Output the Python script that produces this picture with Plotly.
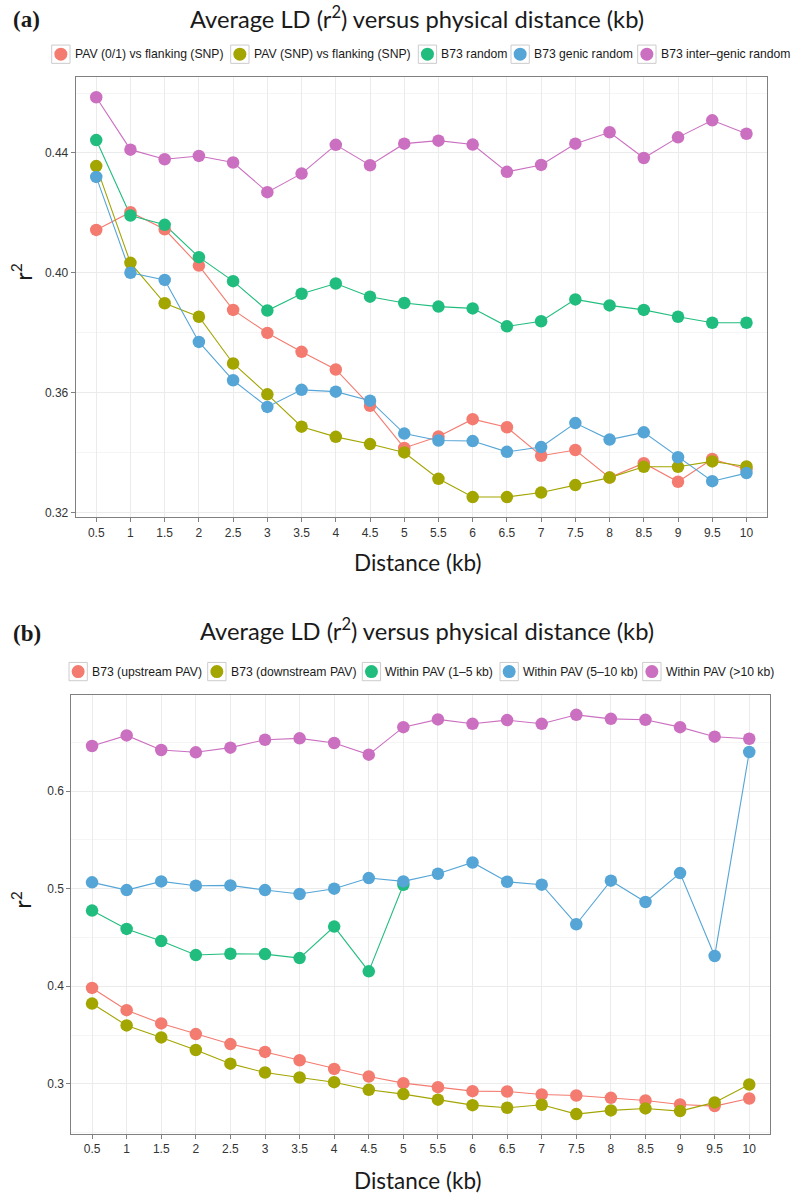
import plotly.graph_objects as go

W, H = 806, 1195

distance = ["0.5", "1", "1.5", "2", "2.5", "3", "3.5", "4", "4.5", "5",
            "5.5", "6", "6.5", "7", "7.5", "8", "8.5", "9", "9.5", "10"]

# ---- Panel (a) ----
a_names = ["PAV (0/1) vs flanking (SNP)", "PAV (SNP) vs flanking (SNP)",
           "B73 random", "B73 genic random", "B73 inter\u2013genic random"]
a_pav01 = [0.4143, 0.4202, 0.4145, 0.4024, 0.3876, 0.3799, 0.3736, 0.3677, 0.3556, 0.3415,
           0.3453, 0.3511, 0.3484, 0.3389, 0.3408, 0.3316, 0.3364, 0.3302, 0.3378, 0.3344]
a_pavsnp = [0.4356, 0.4033, 0.3898, 0.3853, 0.3697, 0.3594, 0.3486, 0.3452, 0.3428, 0.3400,
            0.3312, 0.3251, 0.3251, 0.3266, 0.3291, 0.3316, 0.3352, 0.3352, 0.3370, 0.3353]
a_random = [0.4443, 0.4191, 0.4160, 0.4052, 0.3972, 0.3874, 0.3930, 0.3964, 0.3920, 0.3899,
            0.3887, 0.3881, 0.3821, 0.3838, 0.3911, 0.3891, 0.3876, 0.3853, 0.3833, 0.3833]
a_genic = [0.4320, 0.4000, 0.3976, 0.3769, 0.3641, 0.3552, 0.3609, 0.3603, 0.3573, 0.3463,
           0.3440, 0.3438, 0.3402, 0.3418, 0.3498, 0.3443, 0.3467, 0.3384, 0.3304, 0.3331]
a_intergenic = [0.4586, 0.4411, 0.4379, 0.4390, 0.4368, 0.4269, 0.4331, 0.4427, 0.4359, 0.4431,
                0.4441, 0.4428, 0.4337, 0.4360, 0.4431, 0.4469, 0.4383, 0.4452, 0.4509, 0.4464]
a_series = [a_pav01, a_pavsnp, a_random, a_genic, a_intergenic]
a_yticks = [0.32, 0.36, 0.40, 0.44]

# ---- Panel (b) ----
b_names = ["B73 (upstream PAV)", "B73 (downstream PAV)", "Within PAV (1\u20135 kb)",
           "Within PAV (5\u201310 kb)", "Within PAV (>10 kb)"]
b_upstream = [0.3983, 0.3755, 0.3619, 0.3510, 0.3408, 0.3327, 0.3242, 0.3153, 0.3075, 0.3007,
              0.2966, 0.2925, 0.2922, 0.2891, 0.2881, 0.2857, 0.2830, 0.2789, 0.2772, 0.2850]
b_downstream = [0.3823, 0.3599, 0.3476, 0.3347, 0.3207, 0.3116, 0.3065, 0.3017, 0.2939, 0.2895,
                0.2838, 0.2782, 0.2755, 0.2786, 0.2690, 0.2728, 0.2748, 0.2721, 0.2810, 0.2993]
b_within_1_5 = [0.4776, 0.4588, 0.4463, 0.4320, 0.4333, 0.4330, 0.4289, 0.4612, 0.4153, 0.5040]
b_within_5_10 = [0.5065, 0.4986, 0.5075, 0.5031, 0.5034, 0.4986, 0.4946, 0.5000, 0.5109, 0.5075,
                 0.5153, 0.5269, 0.5071, 0.5041, 0.4636, 0.5082, 0.4864, 0.5160, 0.4310, 0.6401]
b_within_gt10 = [0.6463, 0.6571, 0.6422, 0.6398, 0.6446, 0.6527, 0.6541, 0.6493, 0.6374, 0.6656,
                 0.6735, 0.6690, 0.6728, 0.6690, 0.6782, 0.6741, 0.6731, 0.6656, 0.6558, 0.6537]
b_series = [b_upstream, b_downstream, b_within_1_5, b_within_5_10, b_within_gt10]
b_yticks = [0.3, 0.4, 0.5, 0.6]

colors = ["#F47B70", "#A3A500", "#21BD7E", "#55A5D6", "#CB6FC0"]

title_text = "Average LD (r<sup>2</sup>) versus physical distance (kb)"


def px(x):
    return x / W


def py(y):
    return 1 - y / H


fig = go.Figure()

panels = [
    dict(series=a_series, names=a_names, xa="x", ya="y"),
    dict(series=b_series, names=b_names, xa="x2", ya="y2"),
]

for p in panels:
    for s, c in zip(p["series"], colors):
        fig.add_trace(go.Scatter(x=distance[:len(s)], y=s, mode="lines",
                                 line=dict(color=c, width=1.1),
                                 xaxis=p["xa"], yaxis=p["ya"], showlegend=False,
                                 hoverinfo="skip"))
    for s, c, n in zip(p["series"], colors, p["names"]):
        fig.add_trace(go.Scatter(x=distance[:len(s)], y=s, mode="markers", name=n,
                                 marker=dict(color=c, size=12.5, line=dict(width=0)),
                                 xaxis=p["xa"], yaxis=p["ya"], showlegend=False))

grid = "#EBEBEB"
minor_grid = "#F5F5F5"
border = "#808080"
tickfont = dict(family="Liberation Sans, Arial, sans-serif", size=12, color="#333333")

common_x = dict(type="category", categoryorder="array", categoryarray=distance,
                range=[-0.6, len(distance) - 0.4], showgrid=True, gridcolor=grid,
                gridwidth=1, showline=True, mirror=True, linecolor=border, linewidth=1,
                ticks="outside", ticklen=4, tickcolor=border, tickfont=tickfont,
                zeroline=False)

fig.update_layout(
    width=W, height=H,
    margin=dict(l=0, r=0, t=0, b=0),
    paper_bgcolor="white", plot_bgcolor="white",
    showlegend=False,
    xaxis=dict(common_x, domain=[px(75.7), px(767)], anchor="y"),
    yaxis=dict(domain=[py(518), py(77)], range=[0.3184, 0.4654], anchor="x",
               tickvals=a_yticks, ticktext=[f"{v:.2f}" for v in a_yticks],
               showgrid=True, gridcolor=grid, gridwidth=1,
               minor=dict(dtick=0.02, tick0=0.32, showgrid=True, gridcolor=minor_grid, gridwidth=1),
               showline=True, mirror=True, linecolor=border, linewidth=1,
               ticks="outside", ticklen=4, tickcolor=border, tickfont=tickfont,
               zeroline=False),
    xaxis2=dict(common_x, domain=[px(71.3), px(770)], anchor="y2"),
    yaxis2=dict(domain=[py(1136), py(696)], range=[0.2485, 0.6987], anchor="x2",
                tickvals=b_yticks, ticktext=[f"{v:.1f}" for v in b_yticks],
                showgrid=True, gridcolor=grid, gridwidth=1,
                minor=dict(dtick=0.05, tick0=0.25, showgrid=True, gridcolor=minor_grid, gridwidth=1),
                showline=True, mirror=True, linecolor=border, linewidth=1,
                ticks="outside", ticklen=4, tickcolor=border, tickfont=tickfont,
                zeroline=False),
)

title_font = dict(family="Lato, Open Sans, sans-serif", size=23.7, color="#1a1a1a")
axis_font = dict(family="Lato, Open Sans, sans-serif", size=22.5, color="#1a1a1a")
label_font = dict(family="Liberation Serif, Times New Roman, serif", size=23, color="#1a1a1a")
legend_font = dict(family="Liberation Sans, Arial, sans-serif", size=12.2, color="#1a1a1a")

ann = []
shapes = []

panel_text = [
    dict(label="(a)", lab_y=20, title_x=417, title_y=18, xt_y=563, r_y=273),
    dict(label="(b)", lab_y=635, title_x=427, title_y=631, xt_y=1182, r_y=902),
]
for t in panel_text:
    ann.append(dict(text="<b>" + t["label"] + "</b>", x=px(11), y=py(t["lab_y"]),
                    xref="paper", yref="paper", xanchor="left", yanchor="middle",
                    showarrow=False, font=label_font))
    ann.append(dict(text=title_text, x=px(t["title_x"]), y=py(t["title_y"]),
                    xref="paper", yref="paper", xanchor="center", yanchor="middle",
                    showarrow=False, font=title_font))
    ann.append(dict(text="Distance (kb)", x=px(417), y=py(t["xt_y"]),
                    xref="paper", yref="paper", xanchor="center", yanchor="middle",
                    showarrow=False, font=axis_font))
    ann.append(dict(text="r<sup>2</sup>", x=px(21), y=py(t["r_y"]), textangle=-90,
                    xref="paper", yref="paper", xanchor="center", yanchor="middle",
                    showarrow=False, font=axis_font))

# manual legends (ggplot style keys)
legends = [
    dict(names=a_names, boxes=[51.7, 230.7, 418.3, 511.0, 637.7], yc=54.3),
    dict(names=b_names, boxes=[69.0, 207.7, 362.3, 500.0, 642.7], yc=672.7),
]
key = 18.3
for lg in legends:
    for n, bx, c in zip(lg["names"], lg["boxes"], colors):
        shapes.append(dict(type="rect", xref="paper", yref="paper",
                           x0=px(bx), x1=px(bx + key),
                           y0=py(lg["yc"] + key / 2), y1=py(lg["yc"] - key / 2),
                           line=dict(color="#CCCCCC", width=1), fillcolor="white"))
        shapes.append(dict(type="circle", xref="paper", yref="paper",
                           xsizemode="pixel", ysizemode="pixel",
                           xanchor=px(bx + key / 2), yanchor=py(lg["yc"]),
                           x0=-6.5, x1=6.5, y0=-6.5, y1=6.5,
                           line=dict(width=0), fillcolor=c))
        ann.append(dict(text=n, x=px(bx + key + 2.5), y=py(lg["yc"]),
                        xref="paper", yref="paper", xanchor="left", yanchor="middle",
                        showarrow=False, font=legend_font))

fig.update_layout(annotations=ann, shapes=shapes)

# remove the page's default 8px body margin so the figure sits at (0, 0)
fig.write_html("out.html", config={"displayModeBar": False},
               post_script="document.body.style.margin='0';")
